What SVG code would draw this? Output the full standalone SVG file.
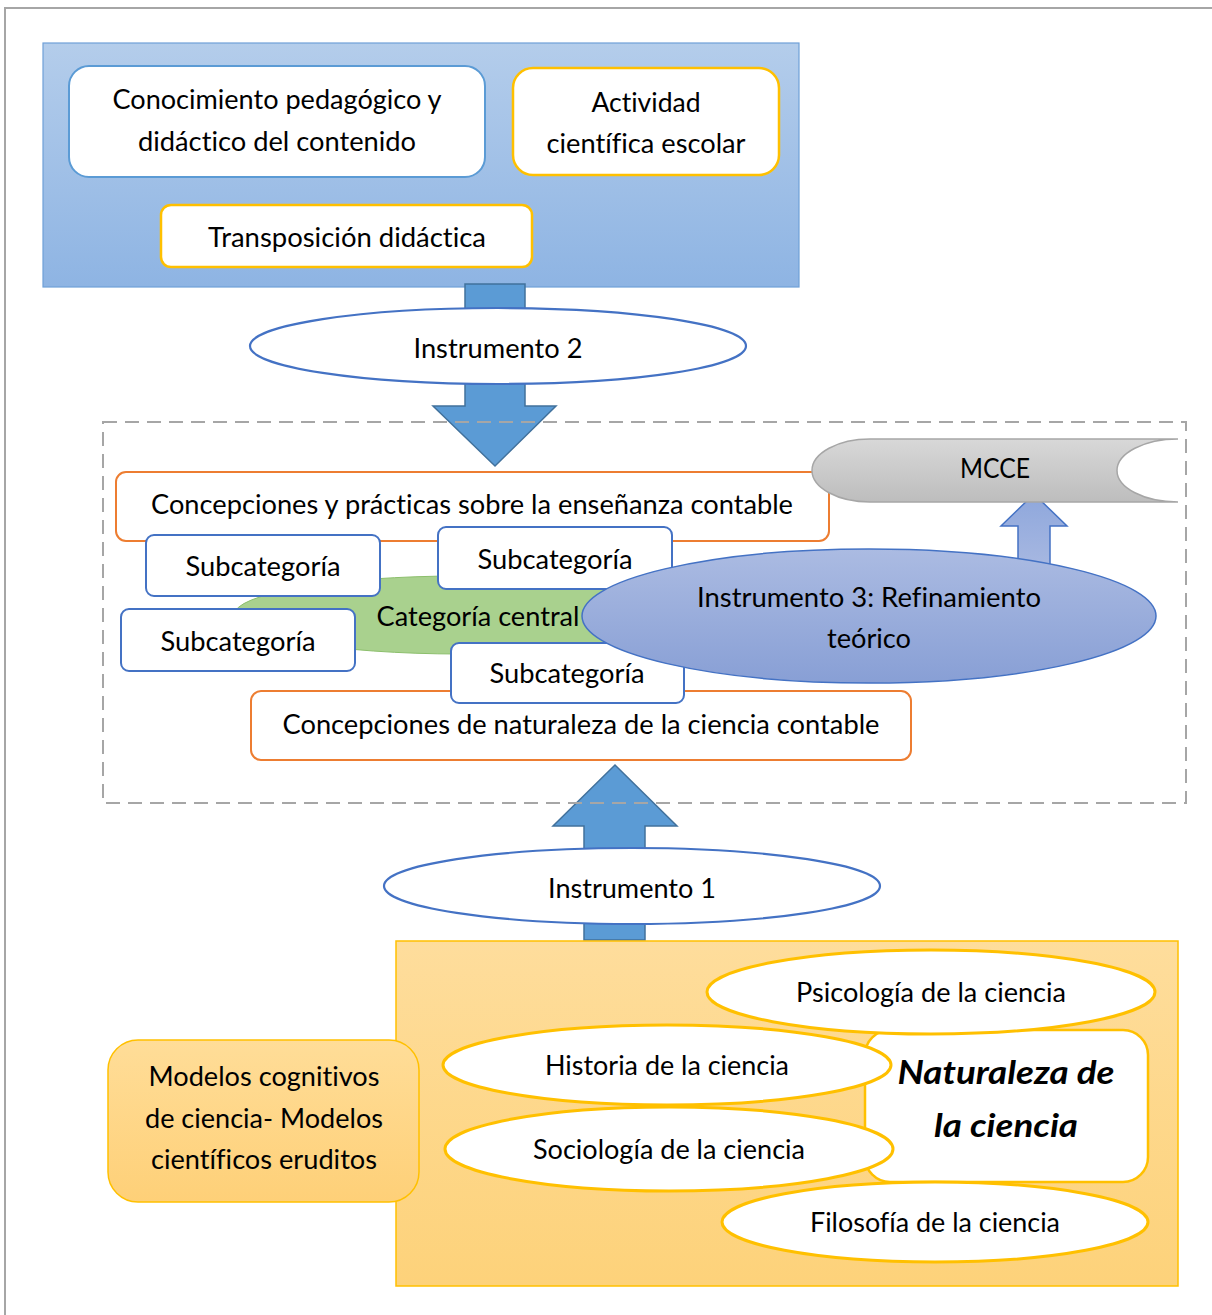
<svg xmlns="http://www.w3.org/2000/svg" width="1212" height="1315" viewBox="0 0 1212 1315">
<defs>
<linearGradient id="gBlue" x1="0" y1="0" x2="0" y2="1"><stop offset="0" stop-color="#b4cdeb"/><stop offset="1" stop-color="#8eb4e3"/></linearGradient>
<linearGradient id="gGray" x1="0" y1="0" x2="0" y2="1"><stop offset="0" stop-color="#d8d8d8"/><stop offset="1" stop-color="#bdbdbd"/></linearGradient>
<linearGradient id="gI3" x1="0" y1="0" x2="0" y2="1"><stop offset="0" stop-color="#abbbe2"/><stop offset="1" stop-color="#889fd5"/></linearGradient>
<linearGradient id="gArr" x1="0" y1="0" x2="0" y2="1"><stop offset="0" stop-color="#8ea7dc"/><stop offset="1" stop-color="#a6b7e1"/></linearGradient>
<linearGradient id="gOr" x1="0" y1="0" x2="0" y2="1"><stop offset="0" stop-color="#fedd9c"/><stop offset="1" stop-color="#fdd27a"/></linearGradient>
<linearGradient id="gOr2" x1="0" y1="0" x2="0" y2="1"><stop offset="0" stop-color="#ffdd98"/><stop offset="1" stop-color="#fed078"/></linearGradient>
</defs>
<style>
text{font-family:Lato,"Liberation Sans",sans-serif;font-size:27px;fill:#000;text-anchor:middle;font-variant-ligatures:none}
.sm{font-size:26px}
.big{font-size:32px;font-weight:bold;font-style:italic}
.wb{fill:#fff;stroke:#5b9bd5;stroke-width:2}
.yb{fill:#fff;stroke:#ffc000;stroke-width:2.5}
.ob{fill:#fff;stroke:#ed7d31;stroke-width:2}
.sb{fill:#fff;stroke:#4472c4;stroke-width:2}
.el{fill:#fff;stroke:#4472c4;stroke-width:2.2}
.ye{fill:#fff;stroke:#ffc000;stroke-width:3}
.arr{fill:#5b9bd5;stroke:#41719c;stroke-width:1.5}
</style>
<rect x="5" y="8" width="1300" height="1400" fill="#fff" stroke="#a6a6a6" stroke-width="2"/>

<g id="topBox">
<rect x="43" y="43" width="756" height="244" fill="url(#gBlue)" stroke="#6fa0d8" stroke-width="1.2"/>
</g>
<g id="conocimiento">
<rect class="wb" x="69" y="66" width="416" height="111" rx="20"/>
<text x="277" y="109" textLength="329" lengthAdjust="spacingAndGlyphs">Conocimiento pedagógico y</text>
<text x="277" y="151" textLength="278" lengthAdjust="spacingAndGlyphs">didáctico del contenido</text>
</g>
<g id="actividad">
<rect class="yb" x="513" y="68" width="266" height="107" rx="20"/>
<text x="646" y="112" textLength="109" lengthAdjust="spacingAndGlyphs">Actividad</text>
<text x="646" y="153" textLength="199" lengthAdjust="spacingAndGlyphs">científica escolar</text>
</g>
<g id="transposicion">
<rect class="yb" x="161" y="205" width="371" height="62" rx="10"/>
<text x="347" y="247" textLength="278" lengthAdjust="spacingAndGlyphs">Transposición didáctica</text>
</g>

<g id="connectors">
<path class="arr" d="M465,284 H525 V406 H556 L495,466 L433,406 H465 Z"/>
<path class="arr" d="M584,940 V826 H553 L615,765 L677,826 H645 V940 Z"/>
<path d="M1018,564 V526 H1001 L1034,494 L1067,526 H1050 V564 Z" fill="url(#gArr)" stroke="#4472c4" stroke-width="1.5"/>
</g>

<g id="instrumento2">
<ellipse class="el" cx="498" cy="346" rx="248" ry="38"/>
<text x="498" y="358" textLength="169" lengthAdjust="spacingAndGlyphs">Instrumento 2</text>
</g>

<g id="practicas">
<rect class="ob" x="116" y="472" width="713" height="69" rx="10"/>
<text x="472" y="514" textLength="642" lengthAdjust="spacingAndGlyphs">Concepciones y prácticas sobre la enseñanza contable</text>
</g>
<g id="naturalezaContable">
<rect class="ob" x="251" y="691" width="660" height="69" rx="10"/>
<text x="581" y="734" textLength="597" lengthAdjust="spacingAndGlyphs">Concepciones de naturaleza de la ciencia contable</text>
</g>
<g id="mcce">
<path d="M870,439 H1178 A61,31.5 0 0 0 1178,502 H870 A58,31.5 0 0 1 870,439 Z" fill="url(#gGray)" stroke="#a6a6a6" stroke-width="1.5"/>
<text x="995" y="478" textLength="70" lengthAdjust="spacingAndGlyphs">MCCE</text>
</g>
<g id="categoriaCentral">
<ellipse cx="460" cy="615" rx="226" ry="39" fill="#a9d18e" stroke="#8cbf6c" stroke-width="1"/>
<text x="478" y="626" textLength="203" lengthAdjust="spacingAndGlyphs">Categoría central</text>
</g>
<g id="subcat1">
<rect class="sb" x="146" y="535" width="234" height="61" rx="8"/>
<text x="263" y="576" textLength="155" lengthAdjust="spacingAndGlyphs">Subcategoría</text>
</g>
<g id="subcat2">
<rect class="sb" x="438" y="527" width="234" height="62" rx="8"/>
<text x="555" y="569" textLength="155" lengthAdjust="spacingAndGlyphs">Subcategoría</text>
</g>
<g id="subcat3">
<rect class="sb" x="121" y="609" width="234" height="62" rx="8"/>
<text x="238" y="651" textLength="155" lengthAdjust="spacingAndGlyphs">Subcategoría</text>
</g>
<g id="subcat4">
<rect class="sb" x="451" y="643" width="233" height="60" rx="8"/>
<text x="567" y="683" textLength="155" lengthAdjust="spacingAndGlyphs">Subcategoría</text>
</g>
<g id="instrumento3">
<ellipse cx="869" cy="616" rx="287" ry="67" fill="url(#gI3)" stroke="#4472c4" stroke-width="1.5"/>
<text x="869" y="607" textLength="344" lengthAdjust="spacingAndGlyphs">Instrumento 3: Refinamiento</text>
<text x="869" y="648" textLength="84" lengthAdjust="spacingAndGlyphs">teórico</text>
</g>

<g id="dashedFrame">
<rect x="103" y="422" width="1083" height="381" fill="none" stroke="#a6a6a6" stroke-width="2" stroke-dasharray="14,8"/>
</g>

<g id="instrumento1">
<ellipse class="el" cx="632" cy="886" rx="248" ry="38"/>
<text x="632" y="898" textLength="168" lengthAdjust="spacingAndGlyphs">Instrumento 1</text>
</g>

<g id="bottomBox">
<rect x="396" y="941" width="782" height="345" fill="url(#gOr)" stroke="#ffc000" stroke-width="1.5"/>
</g>
<g id="modelos">
<rect x="108" y="1040" width="311" height="162" rx="30" fill="url(#gOr2)" stroke="#ffc000" stroke-width="1.5"/>
<text x="264" y="1086" textLength="231" lengthAdjust="spacingAndGlyphs">Modelos cognitivos</text>
<text x="264" y="1128" textLength="238" lengthAdjust="spacingAndGlyphs">de ciencia- Modelos</text>
<text x="264" y="1169" textLength="226" lengthAdjust="spacingAndGlyphs">científicos eruditos</text>
</g>
<g id="naturaleza">
<rect class="yb" x="865" y="1030" width="283" height="152" rx="25"/>
<text class="big" x="1006" y="1084" textLength="217" lengthAdjust="spacingAndGlyphs">Naturaleza de</text>
<text class="big" x="1006" y="1137" textLength="144" lengthAdjust="spacingAndGlyphs">la ciencia</text>
</g>
<g id="psicologia">
<ellipse class="ye" cx="931" cy="992" rx="224" ry="42"/>
<text class="sm" x="931" y="1002" textLength="270" lengthAdjust="spacingAndGlyphs">Psicología de la ciencia</text>
</g>
<g id="historia">
<ellipse class="ye" cx="667" cy="1065" rx="224" ry="40"/>
<text class="sm" x="667" y="1075" textLength="244" lengthAdjust="spacingAndGlyphs">Historia de la ciencia</text>
</g>
<g id="sociologia">
<ellipse class="ye" cx="669" cy="1149" rx="224" ry="42"/>
<text class="sm" x="669" y="1159" textLength="272" lengthAdjust="spacingAndGlyphs">Sociología de la ciencia</text>
</g>
<g id="filosofia">
<ellipse class="ye" cx="935" cy="1222" rx="213" ry="40"/>
<text class="sm" x="935" y="1232" textLength="250" lengthAdjust="spacingAndGlyphs">Filosofía de la ciencia</text>
</g>
</svg>
